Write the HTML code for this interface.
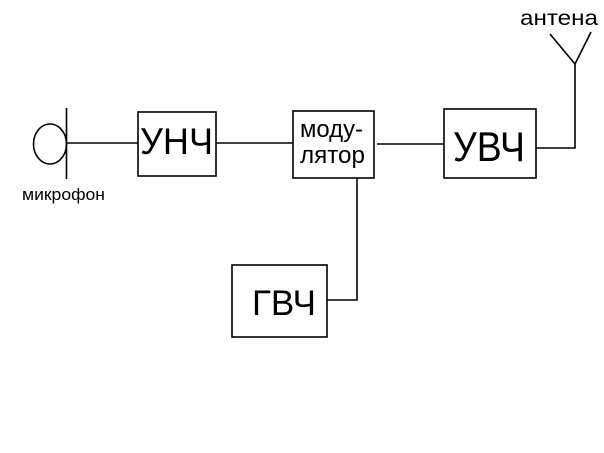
<!DOCTYPE html>
<html><head><meta charset="utf-8"><style>
html,body{margin:0;padding:0;background:#fff;}
svg{display:block}
text{font-family:"Liberation Sans",sans-serif;fill:#000}
</style></head><body>
<svg width="604" height="453" viewBox="0 0 604 453" xmlns="http://www.w3.org/2000/svg">
<g stroke="#000" stroke-width="1.6" fill="none">
<ellipse cx="50" cy="144" rx="16.5" ry="20"/>
<line x1="66.5" y1="108" x2="66.5" y2="179"/>
<line x1="66.5" y1="143" x2="138" y2="143"/>
<rect x="138" y="112" width="78" height="64"/>
<line x1="216" y1="143" x2="293" y2="143"/>
<rect x="293" y="111" width="81" height="67"/>
<line x1="377" y1="144" x2="444" y2="144"/>
<rect x="444" y="109" width="92" height="69"/>
<polyline points="536,148 575,148 575,64"/>
<polyline points="550,34 575,64 591,32"/>
<polyline points="357,178 357,300 327,300"/>
<rect x="232" y="265" width="95" height="72"/>
</g>
<text x="140" y="154" font-size="37" textLength="73" lengthAdjust="spacingAndGlyphs">УНЧ</text>
<text x="300" y="137" font-size="24" textLength="63" lengthAdjust="spacingAndGlyphs">моду-</text>
<text x="300" y="163" font-size="24" textLength="65" lengthAdjust="spacingAndGlyphs">лятор</text>
<text x="453" y="161" font-size="42" textLength="72" lengthAdjust="spacingAndGlyphs">УВЧ</text>
<text x="252" y="315" font-size="35" textLength="64" lengthAdjust="spacingAndGlyphs">ГВЧ</text>
<text x="22" y="200" font-size="17" textLength="83" lengthAdjust="spacingAndGlyphs">микрофон</text>
<text x="520" y="25" font-size="21" textLength="78" lengthAdjust="spacingAndGlyphs">антена</text>
</svg>
</body></html>
